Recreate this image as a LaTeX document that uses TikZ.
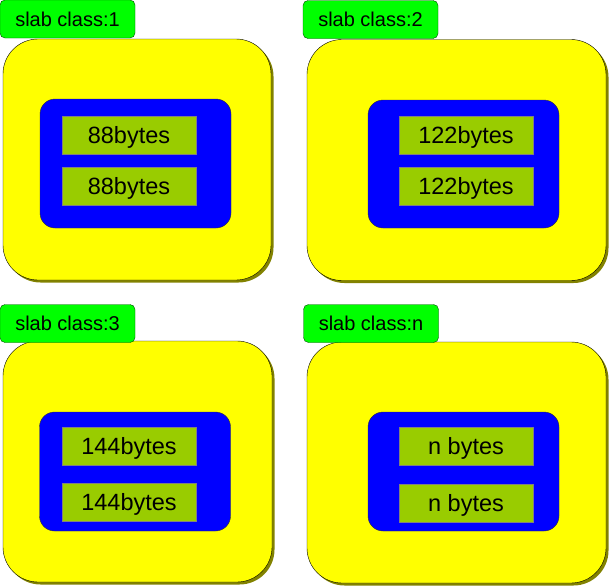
\documentclass[tikz,border=0pt]{standalone}
\usepackage{fontspec}
\setmainfont{Liberation Sans}
\usetikzlibrary{shadows}
\definecolor{tabgreen}{RGB}{0,255,0}
\definecolor{slabyellow}{RGB}{255,255,0}
\definecolor{pageblue}{RGB}{0,0,255}
\definecolor{chunkgreen}{RGB}{153,204,0}
\definecolor{shadowolive}{RGB}{130,130,0}
\begin{document}
\begin{tikzpicture}[x=1pt,y=-1pt,
	tab/.style={draw=black!70!green,fill=tabgreen,rounded corners=5pt,inner sep=0pt,minimum width=135pt,minimum height=38pt,text height=14.3pt,text depth=0pt,font=\fontsize{20}{24}\selectfont},
	slab/.style={draw=black,fill=slabyellow,rounded corners=35pt,minimum height=241pt,drop shadow={shadow xshift=2.5pt,shadow yshift=-2.5pt,fill=shadowolive,opacity=1}},
	page/.style={draw=black!80,fill=pageblue,rounded corners=15pt,minimum width=191pt},
	chunk/.style={draw=gray,fill=chunkgreen,minimum width=134pt,minimum height=38pt,inner sep=0pt,text height=16.8pt,text depth=0pt,font=\fontsize{23.5}{28}\selectfont}]
	\useasboundingbox (0,0) rectangle (610,587);
	% slab class 1
	\node[slab,minimum width=268pt] (slab1) at (137,159.5) {};
	\node[tab] (tab1) at (67.5,19) {slab class:1};
	\node[page,minimum height=129pt] (page1) at (135.5,163.5) {};
	\node[chunk] (c11) at (129,135) {88bytes};
	\node[chunk] (c12) at (129,186) {88bytes};
	% slab class 2
	\node[slab,minimum width=299pt] (slab2) at (456.5,160) {};
	\node[tab] (tab2) at (370.5,19.5) {slab class:2};
	\node[page,minimum height=128pt] (page2) at (463.5,164) {};
	\node[chunk] (c21) at (466,135.5) {122bytes};
	\node[chunk] (c22) at (466,186.5) {122bytes};
	% slab class 3
	\node[slab,minimum width=269pt] (slab3) at (137.5,461.5) {};
	\node[tab] (tab3) at (67.5,323.5) {slab class:3};
	\node[page,minimum height=119pt] (page3) at (135,471.5) {};
	\node[chunk] (c31) at (129,446) {144bytes};
	\node[chunk] (c32) at (129,502.5) {144bytes};
	% slab class n
	\node[slab,minimum width=299pt] (slab4) at (456.5,462.5) {};
	\node[tab] (tab4) at (371,323.5) {slab class:n};
	\node[page,minimum height=119pt] (page4) at (463.5,471.5) {};
	\node[chunk] (c41) at (466,446) {n bytes};
	\node[chunk] (c42) at (466,503) {n bytes};
\end{tikzpicture}
\end{document}
